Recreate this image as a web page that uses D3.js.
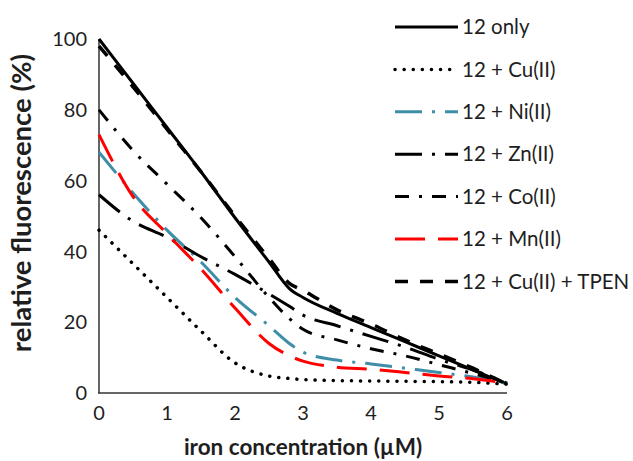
<!DOCTYPE html>
<html>
<head>
<meta charset="utf-8">
<script src="https://cdn.jsdelivr.net/npm/d3@7"></script>
<style>
  body { margin: 0; background: #fff; }
  text { font-family: Lato, "Open Sans", sans-serif; fill: #1e1e1e; }
</style>
</head>
<body>
<div id="chart"></div>
<script>
// Chart size
const svgWidth = 633;
const svgHeight = 461;

// iron concentration (uM)
const ironConc = [0, 0.5, 1, 1.5, 2, 2.5, 2.8, 3, 3.5, 4, 4.5, 5, 5.5, 6];

// relative fluorescence (%) for each condition
const only12 = [100, 87.5, 75, 62.5, 49.5, 37, 29.5, 27, 22.5, 18.5, 14.5, 10.5, 6.5, 2.5];
const cu = [46, 36.5, 27, 17.5, 8.5, 4.8, 4.1, 3.8, 3.5, 3.4, 3.3, 3.2, 3, 2.5];
const ni = [68, 56.5, 46, 37, 27, 19, 14, 11.5, 9.3, 8.2, 7, 5.8, 4.5, 2.8];
const zn = [56, 48.5, 44, 38.5, 33.5, 28, 24.5, 22, 19, 16, 13, 9.5, 6.5, 2.8];
const co = [80, 68.5, 59, 49.5, 38.5, 27, 21, 18, 15, 12.5, 10.5, 8, 5.5, 2.8];
const mn = [73, 55.5, 45, 35, 24, 14, 10.5, 9, 7.3, 6.7, 5.8, 4.8, 4, 2.8];
const cuTpen = [98, 86.5, 74.5, 62.5, 50, 38, 31, 29, 23.5, 19.5, 15, 11, 7, 2.5];

const seriesNames = ["12 only", "12 + Cu(II)", "12 + Ni(II)", "12 + Zn(II)", "12 + Co(II)", "12 + Mn(II)", "12 + Cu(II) + TPEN"];
const seriesValues = [only12, cu, ni, zn, co, mn, cuTpen];

const xTicks = [0, 1, 2, 3, 4, 5, 6];
const yTicks = [0, 20, 40, 60, 80, 100];

// line styles, one per series
const styles = [
  { color: "#000", dash: null, cap: "butt", width: 3 },
  { color: "#000", dash: "0.1 9", cap: "round", width: 3.5 },
  { color: "#3e8ea7", dash: "27 10 3 10", cap: "butt", width: 3 },
  { color: "#000", dash: "27 10 3 10", cap: "butt", width: 3 },
  { color: "#000", dash: "14 10 3 10", cap: "butt", width: 3 },
  { color: "#ff0000", dash: "30 13", cap: "butt", width: 3 },
  { color: "#000", dash: "13 12", cap: "butt", width: 3.5 }
];

const svg = d3.select("#chart")
  .append("svg")
  .attr("width", svgWidth)
  .attr("height", svgHeight);

// scales
const xScale = d3.scaleLinear().domain([0, 6]).range([99, 507]);
const yScale = d3.scaleLinear().domain([0, 100]).range([393, 39]);

// axis lines (no tick marks)
svg.append("line")
  .attr("x1", xScale(0)).attr("x2", xScale(0))
  .attr("y1", yScale(100)).attr("y2", yScale(0))
  .attr("stroke", "#333").attr("stroke-width", 1.5);
svg.append("line")
  .attr("x1", xScale(0) - 1).attr("x2", xScale(6))
  .attr("y1", yScale(0)).attr("y2", yScale(0))
  .attr("stroke", "#333").attr("stroke-width", 1.5);

// tick labels
svg.selectAll(".ytick")
  .data(yTicks)
  .enter()
  .append("text")
  .attr("class", "ytick")
  .attr("x", 87)
  .attr("y", d => yScale(d))
  .attr("dy", "0.36em")
  .attr("text-anchor", "end")
  .style("font-size", "20px")
  .text(d => d);

svg.selectAll(".xtick")
  .data(xTicks)
  .enter()
  .append("text")
  .attr("class", "xtick")
  .attr("x", d => xScale(d))
  .attr("y", 420)
  .attr("text-anchor", "middle")
  .style("font-size", "20px")
  .text(d => d);

// axis titles
svg.append("text")
  .attr("x", xScale(3))
  .attr("y", 455)
  .attr("text-anchor", "middle")
  .style("font-size", "22.5px")
  .style("font-weight", "bold")
  .text("iron concentration (\u00b5M)");

svg.append("text")
  .attr("transform", "translate(31, 203) rotate(-90)")
  .attr("text-anchor", "middle")
  .style("font-size", "27.5px")
  .style("font-weight", "bold")
  .text("relative fluorescence (%)");

// data lines
const line = d3.line()
  .x((d, i) => xScale(ironConc[i]))
  .y(d => yScale(d))
  .curve(d3.curveMonotoneX);

svg.selectAll(".series")
  .data(seriesValues)
  .enter()
  .append("path")
  .attr("class", "series")
  .attr("d", d => line(d))
  .attr("fill", "none")
  .attr("stroke", (d, i) => styles[i].color)
  .attr("stroke-width", (d, i) => styles[i].width)
  .attr("stroke-dasharray", (d, i) => styles[i].dash)
  .attr("stroke-linecap", (d, i) => styles[i].cap)
  .attr("stroke-linejoin", "round");

// legend
const legend = svg.selectAll(".legend")
  .data(seriesNames)
  .enter()
  .append("g")
  .attr("class", "legend")
  .attr("transform", (d, i) => `translate(395, ${27 + i * 42.4})`);

legend.append("line")
  .attr("x1", 0).attr("x2", 63)
  .attr("y1", 0).attr("y2", 0)
  .attr("stroke", (d, i) => styles[i].color)
  .attr("stroke-width", (d, i) => styles[i].width)
  .attr("stroke-dasharray", (d, i) => styles[i].dash)
  .attr("stroke-linecap", (d, i) => styles[i].cap);

legend.append("text")
  .attr("x", 67)
  .attr("y", 0)
  .attr("dy", "0.35em")
  .style("font-size", "20.5px")
  .text(d => d);
</script>
</body>
</html>
